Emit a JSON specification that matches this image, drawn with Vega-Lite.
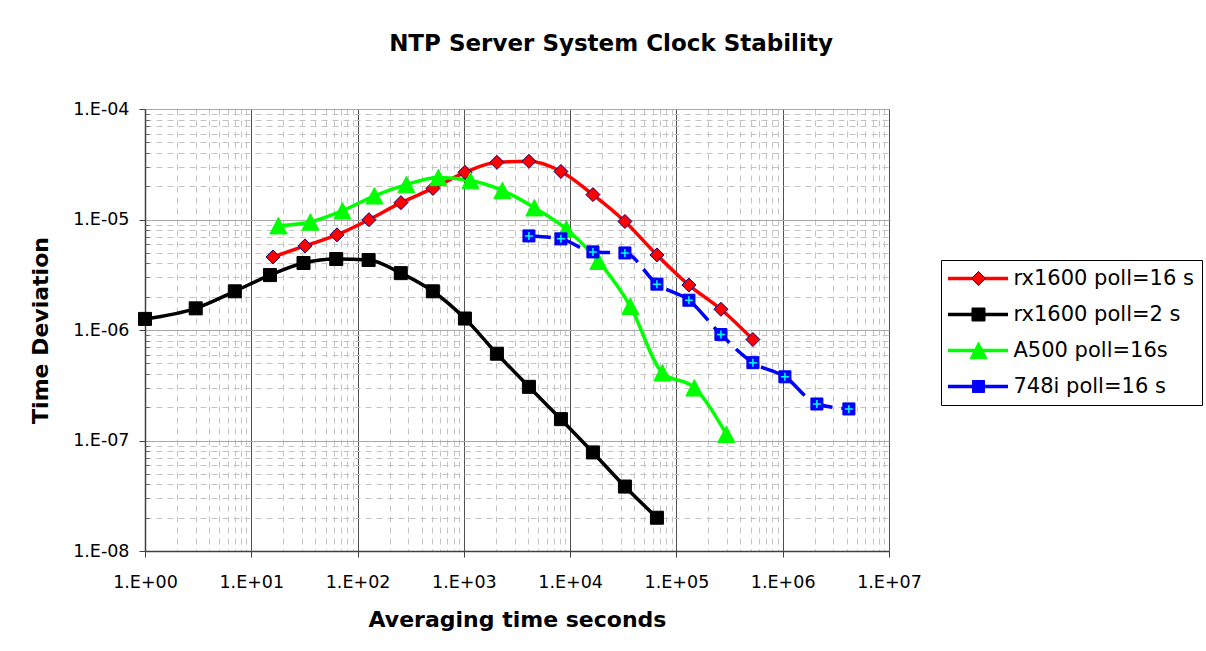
{
  "$schema": "https://vega.github.io/schema/vega-lite/v6.json",
  "autosize": {"type": "none"},
  "width": 744,
  "height": 442,
  "padding": {"left": 145, "top": 109, "right": 317, "bottom": 100},
  "background": "white",
  "title": {"text": "NTP Server System Clock Stability", "anchor": "middle", "frame": "group", "dx": 94, "offset": 44, "fontSize": 23, "fontWeight": "bold", "font": "DejaVu Sans", "color": "#000000"},
  "config": {
    "font": "DejaVu Sans",
    "view": {"stroke": "#808080", "strokeWidth": 1},
    "axis": {"labelColor": "#000000", "titleColor": "#000000"}
  },
  "data": {"values": [
    {"series": "rx1600 poll=16 s", "t": 16, "v": 4.58e-6},
    {"series": "rx1600 poll=16 s", "t": 32, "v": 5.77e-6},
    {"series": "rx1600 poll=16 s", "t": 64, "v": 7.26e-6},
    {"series": "rx1600 poll=16 s", "t": 128, "v": 9.96e-6},
    {"series": "rx1600 poll=16 s", "t": 256, "v": 1.42e-5},
    {"series": "rx1600 poll=16 s", "t": 512, "v": 1.91e-5},
    {"series": "rx1600 poll=16 s", "t": 1024, "v": 2.67e-5},
    {"series": "rx1600 poll=16 s", "t": 2048, "v": 3.29e-5},
    {"series": "rx1600 poll=16 s", "t": 4096, "v": 3.36e-5},
    {"series": "rx1600 poll=16 s", "t": 8192, "v": 2.72e-5},
    {"series": "rx1600 poll=16 s", "t": 16384, "v": 1.68e-5},
    {"series": "rx1600 poll=16 s", "t": 32768, "v": 9.6e-6},
    {"series": "rx1600 poll=16 s", "t": 65536, "v": 4.78e-6},
    {"series": "rx1600 poll=16 s", "t": 131072, "v": 2.55e-6},
    {"series": "rx1600 poll=16 s", "t": 262144, "v": 1.54e-6},
    {"series": "rx1600 poll=16 s", "t": 524288, "v": 8.2e-7},
    {"series": "rx1600 poll=2 s", "t": 1, "v": 1.26e-6},
    {"series": "rx1600 poll=2 s", "t": 3, "v": 1.57e-6},
    {"series": "rx1600 poll=2 s", "t": 7, "v": 2.24e-6},
    {"series": "rx1600 poll=2 s", "t": 15, "v": 3.14e-6},
    {"series": "rx1600 poll=2 s", "t": 31, "v": 4.04e-6},
    {"series": "rx1600 poll=2 s", "t": 63, "v": 4.39e-6},
    {"series": "rx1600 poll=2 s", "t": 127, "v": 4.3e-6},
    {"series": "rx1600 poll=2 s", "t": 255, "v": 3.27e-6},
    {"series": "rx1600 poll=2 s", "t": 511, "v": 2.24e-6},
    {"series": "rx1600 poll=2 s", "t": 1023, "v": 1.27e-6},
    {"series": "rx1600 poll=2 s", "t": 2047, "v": 6.1e-7},
    {"series": "rx1600 poll=2 s", "t": 4095, "v": 3.06e-7},
    {"series": "rx1600 poll=2 s", "t": 8191, "v": 1.56e-7},
    {"series": "rx1600 poll=2 s", "t": 16383, "v": 7.8e-8},
    {"series": "rx1600 poll=2 s", "t": 32767, "v": 3.83e-8},
    {"series": "rx1600 poll=2 s", "t": 65535, "v": 2.0e-8},
    {"series": "A500 poll=16s", "t": 18, "v": 8.8e-6},
    {"series": "A500 poll=16s", "t": 36, "v": 9.5e-6},
    {"series": "A500 poll=16s", "t": 72, "v": 1.2e-5},
    {"series": "A500 poll=16s", "t": 144, "v": 1.64e-5},
    {"series": "A500 poll=16s", "t": 288, "v": 2.07e-5},
    {"series": "A500 poll=16s", "t": 576, "v": 2.4e-5},
    {"series": "A500 poll=16s", "t": 1152, "v": 2.25e-5},
    {"series": "A500 poll=16s", "t": 2304, "v": 1.83e-5},
    {"series": "A500 poll=16s", "t": 4608, "v": 1.28e-5},
    {"series": "A500 poll=16s", "t": 9216, "v": 8.2e-6},
    {"series": "A500 poll=16s", "t": 18432, "v": 4.2e-6},
    {"series": "A500 poll=16s", "t": 36864, "v": 1.64e-6},
    {"series": "A500 poll=16s", "t": 73728, "v": 4.1e-7},
    {"series": "A500 poll=16s", "t": 147456, "v": 3.0e-7},
    {"series": "A500 poll=16s", "t": 294912, "v": 1.14e-7},
    {"series": "748i poll=16 s", "t": 4096, "v": 7.1e-6},
    {"series": "748i poll=16 s", "t": 8192, "v": 6.68e-6},
    {"series": "748i poll=16 s", "t": 16384, "v": 5.09e-6},
    {"series": "748i poll=16 s", "t": 32768, "v": 4.98e-6},
    {"series": "748i poll=16 s", "t": 65536, "v": 2.6e-6},
    {"series": "748i poll=16 s", "t": 131072, "v": 1.86e-6},
    {"series": "748i poll=16 s", "t": 262144, "v": 9.1e-7},
    {"series": "748i poll=16 s", "t": 524288, "v": 5.06e-7},
    {"series": "748i poll=16 s", "t": 1048576, "v": 3.77e-7},
    {"series": "748i poll=16 s", "t": 2097152, "v": 2.14e-7},
    {"series": "748i poll=16 s", "t": 4194304, "v": 1.93e-7}
  ]},
  "resolve": {"axis": {"x": "independent", "y": "independent"}},
  "layer": [
    {
      "transform": [{"filter": "datum.series !== '748i poll=16 s'"}],
      "mark": {"type": "line", "interpolate": "monotone", "strokeWidth": 3.5},
      "encoding": {
        "x": {"field": "t", "type": "quantitative",
          "scale": {"type": "log", "domain": [1, 10000000], "nice": false},
          "axis": {"orient": "bottom", "values": [1, 10, 100, 1000, 10000, 100000, 1000000, 10000000],
            "labelExpr": "'1.E+0' + round(log(datum.value)/LN10)",
            "labelFontSize": 17.5, "labelPadding": 16, "labelFlush": false, "labelOverlap": false,
            "grid": true, "gridColor": "#505050", "gridWidth": 1,
            "domainColor": "#404040", "domainWidth": 1.5,
            "ticks": true, "tickColor": "#404040", "tickSize": 6, "tickWidth": 1,
            "title": "Averaging time seconds", "titleFontSize": 22, "titleFontWeight": "bold", "titlePadding": 19}},
        "y": {"field": "v", "type": "quantitative",
          "scale": {"type": "log", "domain": [1e-8, 1e-4], "nice": false},
          "axis": {"orient": "left", "values": [1e-8, 1e-7, 1e-6, 1e-5, 1e-4],
            "labelExpr": "'1.E-0' + round(-log(datum.value)/LN10)",
            "labelFontSize": 17.5, "labelPadding": 10, "labelFlush": false, "labelOverlap": false,
            "grid": true, "gridColor": "#a8a8a8", "gridWidth": 1,
            "domainColor": "#404040", "domainWidth": 1.5,
            "ticks": true, "tickColor": "#404040", "tickSize": 6, "tickWidth": 1,
            "title": "Time Deviation", "titleFontSize": 22, "titleFontWeight": "bold", "titlePadding": 20}},
        "color": {"field": "series", "type": "nominal",
          "scale": {"domain": ["rx1600 poll=16 s", "rx1600 poll=2 s", "A500 poll=16s", "748i poll=16 s"], "range": ["#ff0000", "#000000", "#00ff00", "#0000ff"]},
          "legend": {"orient": "none", "legendX": 796, "legendY": 151, "title": null,
            "symbolType": "M-4,0H4", "symbolSize": 225, "symbolStrokeWidth": 3.5, "symbolOffset": 18.5,
            "labelFontSize": 21, "labelColor": "#000000", "labelOffset": 25, "labelLimit": 0,
            "padding": 8, "rowPadding": 14, "strokeColor": "#000000"}}
      }
    },
    {
      "transform": [{"filter": "datum.series === '748i poll=16 s'"}],
      "mark": {"type": "line", "interpolate": "monotone", "strokeWidth": 3.5, "strokeDash": [22, 9]},
      "encoding": {
        "x": {"field": "t", "type": "quantitative", "axis": null},
        "y": {"field": "v", "type": "quantitative", "axis": null},
        "color": {"field": "series", "type": "nominal"}
      }
    },
    {
      "mark": {"type": "point", "filled": true, "opacity": 1, "strokeWidth": 1, "size": 196},
      "encoding": {
        "x": {"field": "t", "type": "quantitative",
          "axis": {"orient": "bottom", "values": [2,3,4,5,6,7,8,9,20,30,40,50,60,70,80,90,200,300,400,500,600,700,800,900,2000,3000,4000,5000,6000,7000,8000,9000,20000,30000,40000,50000,60000,70000,80000,90000,200000,300000,400000,500000,600000,700000,800000,900000,2000000,3000000,4000000,5000000,6000000,7000000,8000000,9000000],
            "grid": true, "gridColor": "#c4c4c4", "gridDash": [6, 5], "gridWidth": 1,
            "labels": false, "ticks": false, "domain": false, "title": null}},
        "y": {"field": "v", "type": "quantitative",
          "axis": {"orient": "left", "values": [2e-8,3e-8,4e-8,5e-8,6e-8,7e-8,8e-8,9e-8,2e-7,3e-7,4e-7,5e-7,6e-7,7e-7,8e-7,9e-7,2e-6,3e-6,4e-6,5e-6,6e-6,7e-6,8e-6,9e-6,2e-5,3e-5,4e-5,5e-5,6e-5,7e-5,8e-5,9e-5],
            "grid": true, "gridColor": "#c4c4c4", "gridDash": [6, 5], "gridWidth": 1,
            "labels": false, "ticks": true, "tickSize": -4, "tickColor": "#606060", "domain": false, "title": null}},
        "fill": {"field": "series", "type": "nominal", "sort": null,
          "scale": {"range": ["#ff0000", "#000000", "#00ff00", "#0000ff"]},
          "legend": {"orient": "none", "legendX": 796, "legendY": 151, "title": null,
            "labelExpr": "' '",
            "labelFontSize": 21, "labelOffset": 8, "labelLimit": 0,
            "padding": 8, "rowPadding": 14, "symbolOffset": 19, "symbolSize": 196, "symbolStrokeWidth": 1}},
        "shape": {"field": "series", "type": "nominal", "sort": null,
          "scale": {"range": ["M0,-1L1,0L0,1L-1,0Z", "M-0.93,-0.93H0.93V0.93H-0.93Z", "M0,-1.18L1.22,1.18L-1.22,1.18Z", "M-0.86,-0.86H0.86V0.86H-0.86Z"]}},
        "stroke": {"field": "series", "type": "nominal", "sort": null,
          "scale": {"range": ["#000080", "#000000", "#00ff00", "#0000ff"]}}
      }
    },
    {
      "transform": [{"filter": "datum.series === '748i poll=16 s'"}],
      "mark": {"type": "point", "shape": "M-1,0H1M0,-1V1", "filled": false, "stroke": "#00ffff", "strokeWidth": 1.5, "size": 64, "opacity": 1},
      "encoding": {
        "x": {"field": "t", "type": "quantitative", "axis": null},
        "y": {"field": "v", "type": "quantitative", "axis": null}
      }
    }
  ]
}
